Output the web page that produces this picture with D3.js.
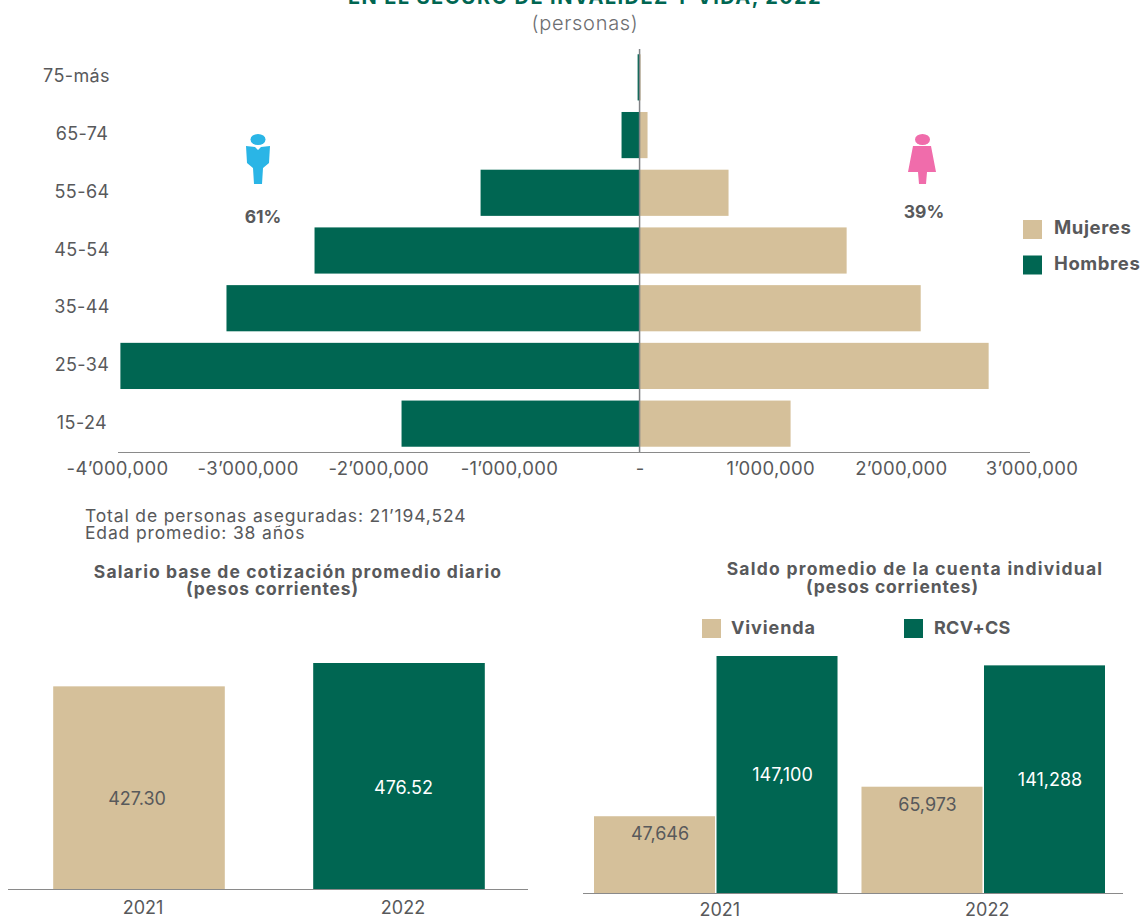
<!DOCTYPE html>
<html>
<head>
<meta charset="utf-8">
<script src="https://cdn.jsdelivr.net/npm/d3@7"></script>
<style>
  html, body { margin: 0; padding: 0; background: #fff; overflow: hidden; }
  svg { display: block; }
  text { font-family: Inter, "Open Sans", sans-serif; fill: #58595b; }
</style>
</head>
<body>
<div class="container"></div>
<script>
const ages = ["15-24", "25-34", "35-44", "45-54", "55-64", "65-74", "75-más"];
const hombres = [1822000, 3974000, 3162000, 2488000, 1217000, 138000, 15000];
const mujeres = [1156000, 2672000, 2152000, 1585000, 681000, 61000, 8000];
const pyramidTicks = [-4000000, -3000000, -2000000, -1000000, 0, 1000000, 2000000, 3000000];
const pyramidTickLabels = ["-4’000,000", "-3’000,000", "-2’000,000", "-1’000,000", "-", "1’000,000", "2’000,000", "3’000,000"];
const years = ["2021", "2022"];
const salario = [427.30, 476.52];
const vivienda = [47646, 65973];
const rcv = [147100, 141288];

const green = "#006652", tan = "#d5c09a", grey = "#58595b";
const width = 1143, height = 920;
const svg = d3.select(".container").append("svg")
              .attr("width", width)
              .attr("height", height);

function label(x, y, txt, size, weight, anchor, fill, spacing) {
    return svg.append("text")
              .attr("x", x).attr("y", y)
              .attr("font-size", size)
              .attr("font-weight", weight || 400)
              .attr("text-anchor", anchor || "middle")
              .style("fill", fill || grey)
              .style("letter-spacing", spacing || null)
              .text(txt);
}

// titles
label(585, 3.5, "EN EL SEGURO DE INVALIDEZ Y VIDA, 2022", 20, 700, "middle", green, "1.4px");
label(585, 30, "(personas)", 20, 300, "middle", "#6d6e71", "0.7px");

// pyramid
const x = d3.scaleLinear().domain([-4000000, 3000000]).range([117, 1031.5]);
const y = d3.scaleBand().domain(ages).range([452.5, 48.5]).paddingInner(0.2).paddingOuter(0.1);

svg.selectAll(".hombre")
   .data(ages)
   .join("rect")
   .attr("class", "hombre")
   .attr("x", (d, i) => x(-hombres[i]))
   .attr("y", d => y(d))
   .attr("width", (d, i) => x(0) - x(-hombres[i]))
   .attr("height", y.bandwidth())
   .attr("fill", green);

svg.selectAll(".mujer")
   .data(ages)
   .join("rect")
   .attr("class", "mujer")
   .attr("x", x(0))
   .attr("y", d => y(d))
   .attr("width", (d, i) => x(mujeres[i]) - x(0))
   .attr("height", y.bandwidth())
   .attr("fill", tan);

const xAxis = svg.append("g")
   .attr("transform", "translate(0,452)")
   .call(d3.axisBottom(x).tickValues(pyramidTicks).tickSize(0).tickPadding(10)
           .tickFormat((d, i) => pyramidTickLabels[i]));
xAxis.select(".domain").attr("d", "M118,0.5H1030").attr("stroke", "#8a8a8a");
xAxis.selectAll("text").attr("font-size", 18.5).attr("font-family", null).style("letter-spacing", "0.3px");

// centre line
svg.append("line")
   .attr("x1", x(0)).attr("x2", x(0))
   .attr("y1", 49).attr("y2", 452)
   .attr("stroke", "#808285").attr("stroke-width", 1.5);

const ageLabelX = {"75-más": 76.5};
svg.selectAll(".age")
   .data(ages)
   .join("text")
   .attr("class", "age")
   .attr("x", d => ageLabelX[d] || 82)
   .attr("y", d => y(d) + y.bandwidth() / 2 + 5)
   .attr("text-anchor", "middle")
   .attr("font-size", 18)
   .style("letter-spacing", "0.4px")
   .text(d => d);

// icons
const blurDef = svg.append("defs").append("filter").attr("id", "soft");
blurDef.append("feGaussianBlur").attr("stdDeviation", 0.7);
const iconMan = svg.append("g").attr("filter", "url(#soft)").attr("fill", "#29b5e6");
iconMan.append("ellipse").attr("cx", 258).attr("cy", 139.5).attr("rx", 7.5).attr("ry", 5.5);
iconMan.append("path")
   .attr("d", "M246,146L255,147L258,150L261,147L270,146L269,163L263,168L262,184L254,184L253,168L247,163Z");
const iconWoman = svg.append("g").attr("filter", "url(#soft)").attr("fill", "#f06cab");
iconWoman.append("ellipse").attr("cx", 922.5).attr("cy", 139.5).attr("rx", 7.5).attr("ry", 5.5);
iconWoman.append("path")
   .attr("d", "M913,146H931L936,172H927L926,184H919L918,172H908Z");
label(263, 223, "61%", 17.5, 700);
label(924, 218, "39%", 17.5, 700);

// pyramid legend
const pyramidLegend = ["Mujeres", "Hombres"];
const pyramidLegendColor = d3.scaleOrdinal().domain(pyramidLegend).range([tan, green]);
pyramidLegend.forEach((d, i) => {
    svg.append("rect").attr("x", 1023).attr("y", 220 + i * 35.5).attr("width", 19).attr("height", 19)
       .attr("fill", pyramidLegendColor(d));
    label(1054, 234 + i * 36, d, 18.5, 700, "start", grey, "0.6px");
});

// notes
label(85, 522, "Total de personas aseguradas: 21’194,524", 17.5, 400, "start", grey, "0.85px");
label(85, 539, "Edad promedio: 38 años", 17.5, 400, "start", grey, "0.85px");

// salario
label(298, 578, "Salario base de cotización promedio diario", 17.5, 700, "middle", grey, "1.1px");
label(272.5, 595, "(pesos corrientes)", 17.5, 700, "middle", grey, "0.85px");

const xs = d3.scaleBand().domain(years).range([9, 529]).paddingInner(0.34).paddingOuter(0.17);
const ys = d3.scaleLinear().domain([0, 476.52]).range([889, 663]);
const salarioDx = [-2, 4.5];
svg.selectAll(".salario")
   .data(years)
   .join("rect")
   .attr("class", "salario")
   .attr("x", d => xs(d))
   .attr("y", (d, i) => ys(salario[i]))
   .attr("width", xs.bandwidth())
   .attr("height", (d, i) => ys(0) - ys(salario[i]))
   .attr("fill", (d, i) => i ? green : tan);
svg.selectAll(".salarioVal")
   .data(years)
   .join("text")
   .attr("class", "salarioVal")
   .attr("x", (d, i) => xs(d) + xs.bandwidth() / 2 + salarioDx[i])
   .attr("y", (d, i) => i ? 794 : 805)
   .attr("text-anchor", "middle")
   .attr("font-size", 18)
   .style("fill", (d, i) => i ? "#fff" : grey)
   .text((d, i) => salario[i].toFixed(2));
const sAxis = svg.append("g")
   .attr("transform", "translate(4,889)")
   .call(d3.axisBottom(xs).tickSize(0).tickPadding(12));
sAxis.select(".domain").attr("d", "M4,0.5H524").attr("stroke", "#8a8a8a");
sAxis.selectAll("text").attr("font-size", 18).attr("font-family", null);

// saldo
label(915, 575, "Saldo promedio de la cuenta individual", 17.5, 700, "middle", grey, "1.25px");
label(892.5, 593, "(pesos corrientes)", 17.5, 700, "middle", grey, "0.85px");
const saldoLegend = ["Vivienda", "RCV+CS"];
saldoLegend.forEach((d, i) => {
    svg.append("rect").attr("x", 702 + i * 202).attr("y", 619).attr("width", 19).attr("height", 19)
       .attr("fill", i ? green : tan);
    label(731 + i * 203, 634, d, 18, 700, "start", grey, i ? "0.3px" : "0.9px");
});

const x0 = d3.scaleBand().domain(years).range([594, 1105]).paddingInner(0.0896);
const x1 = d3.scaleBand().domain(saldoLegend).range([0, x0.bandwidth()]).paddingInner(0.0123);
const yr = d3.scaleLinear().domain([0, 147100]).range([893, 656]);
const saldoSeries = [vivienda, rcv];
const saldoValY = [[840, 811], [781, 786]];
saldoLegend.forEach((s, k) => {
    svg.selectAll(".saldo" + k)
       .data(years)
       .join("rect")
       .attr("class", "saldo" + k)
       .attr("x", d => x0(d) + x1(s))
       .attr("y", (d, i) => yr(saldoSeries[k][i]))
       .attr("width", x1.bandwidth())
       .attr("height", (d, i) => yr(0) - yr(saldoSeries[k][i]))
       .attr("fill", k ? green : tan);
    svg.selectAll(".saldoVal" + k)
       .data(years)
       .join("text")
       .attr("class", "saldoVal" + k)
       .attr("x", d => x0(d) + x1(s) + x1.bandwidth() / 2 + 5.5)
       .attr("y", (d, i) => saldoValY[k][i])
       .attr("text-anchor", "middle")
       .attr("font-size", 18)
       .style("fill", k ? "#fff" : grey)
       .text((d, i) => d3.format(",")(saldoSeries[k][i]));
});
const rAxis = svg.append("g")
   .attr("transform", "translate(4,893)")
   .call(d3.axisBottom(x0).tickSize(0).tickPadding(10));
rAxis.select(".domain").attr("d", "M579,0.5H1119").attr("stroke", "#8a8a8a");
rAxis.selectAll("text").attr("font-size", 18).attr("font-family", null);
</script>
</body>
</html>
